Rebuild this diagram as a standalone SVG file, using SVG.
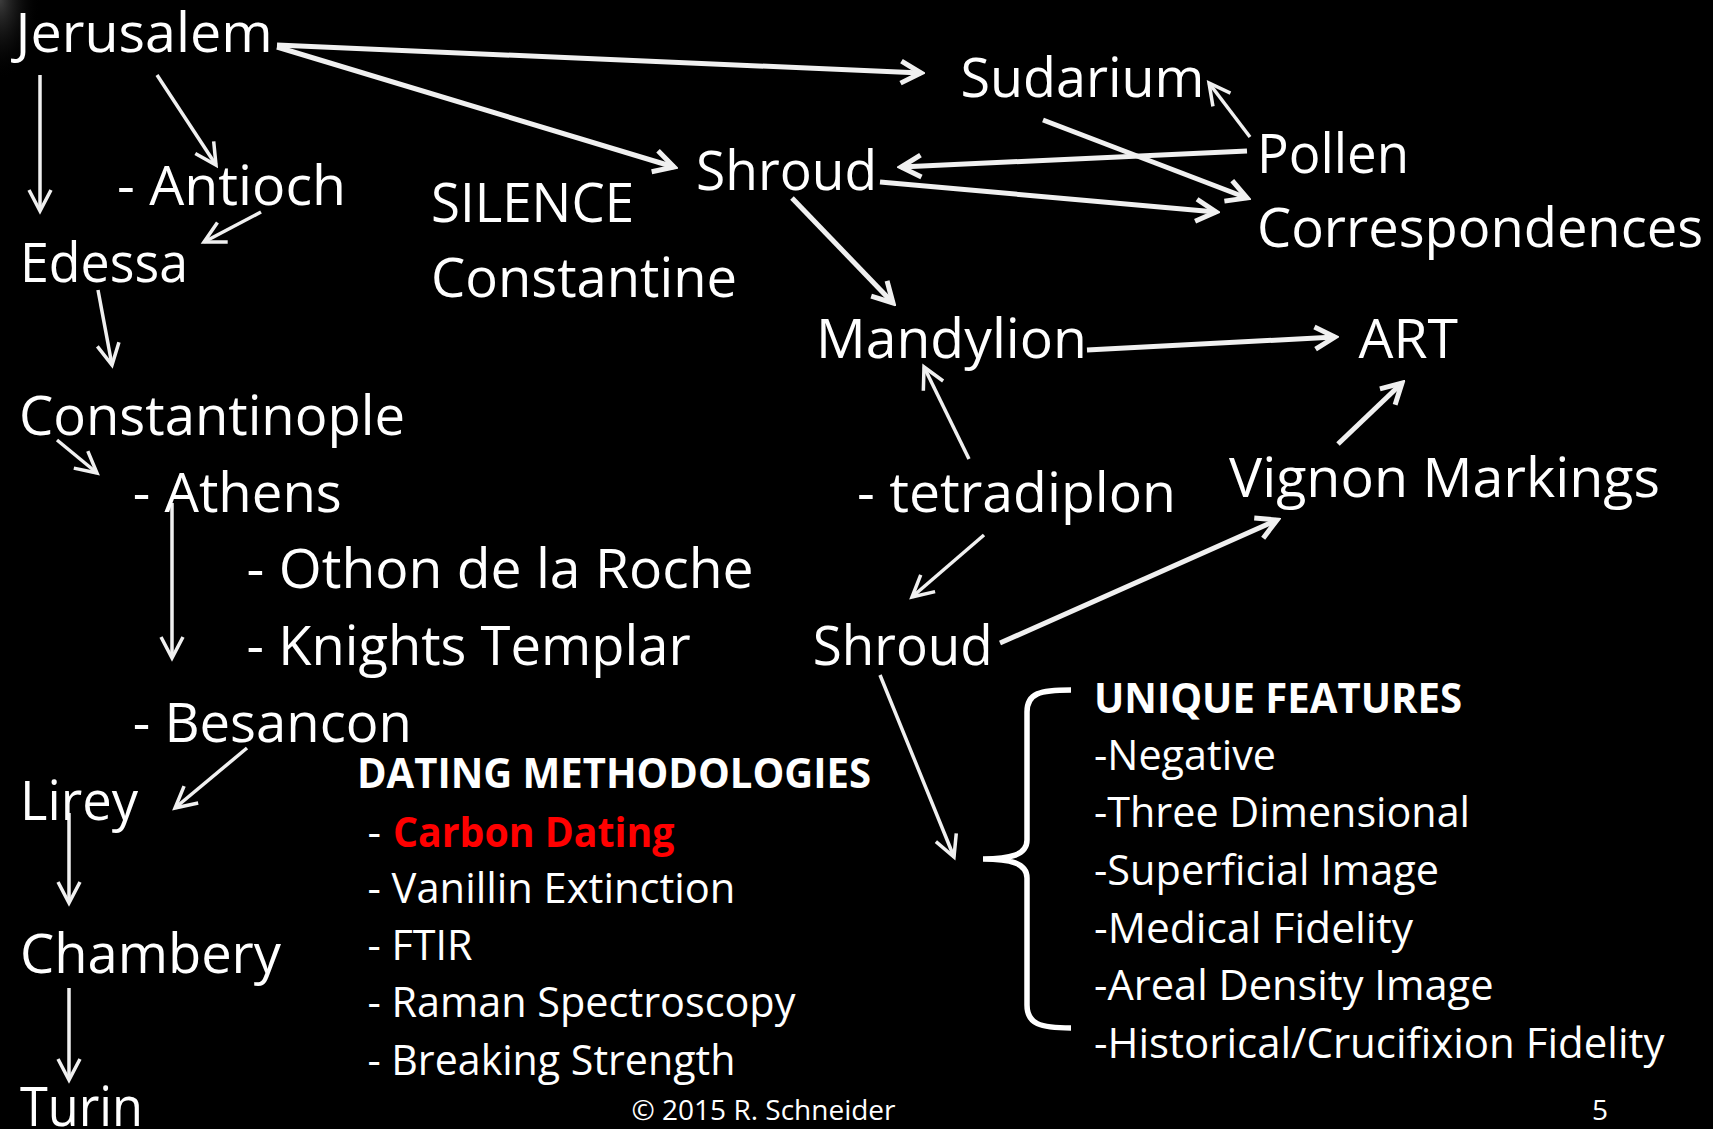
<svg xmlns="http://www.w3.org/2000/svg" width="1713" height="1129" viewBox="0 0 1713 1129">
<defs>
<style>
text{fill:#fff;font-family:"Open Sans","Noto Sans",sans-serif}
.big{font-size:55px}
.sm{font-size:42px}
.b{font-weight:bold}
.red{fill:#ff0000}
.foot{font-size:28px}
.thick{stroke:#f0f0f0;stroke-width:5;fill:none;marker-end:url(#ahThick)}
.thin{stroke:#f0f0f0;stroke-width:3.5;fill:none;marker-end:url(#ahThin)}
</style>
<marker id="ahThick" markerUnits="userSpaceOnUse" viewBox="-30 -15 34 30" markerWidth="34" markerHeight="30" refX="0" refY="0" orient="auto">
<path d="M-20,-11 L0,0 L-20,11" fill="none" stroke="#f0f0f0" stroke-width="5" stroke-linejoin="miter"/>
</marker>
<marker id="ahThin" markerUnits="userSpaceOnUse" viewBox="-30 -15 34 30" markerWidth="34" markerHeight="30" refX="0" refY="0" orient="auto">
<path d="M-21,-11 L0,0 L-21,11" fill="none" stroke="#f0f0f0" stroke-width="3.5" stroke-linejoin="miter"/>
</marker>
<radialGradient id="smudge" cx="0" cy="0" r="1">
<stop offset="0" stop-color="#666" stop-opacity="0.6"/>
<stop offset="1" stop-color="#000" stop-opacity="0"/>
</radialGradient>
</defs>
<rect width="1713" height="1129" fill="#000"/>
<rect x="0" y="0" width="40" height="80" fill="url(#smudge)"/>

<g id="connectors">
<line class="thin" x1="40" y1="75" x2="40" y2="211"/>
<line class="thin" x1="157" y1="75" x2="216" y2="165"/>
<line class="thin" x1="261" y1="212" x2="204" y2="242"/>
<line class="thin" x1="98" y1="290" x2="112" y2="365"/>
<line class="thin" x1="57" y1="440" x2="97" y2="473"/>
<line class="thin" x1="172" y1="503" x2="172" y2="658"/>
<line class="thin" x1="247" y1="748" x2="175" y2="808"/>
<line class="thin" x1="69" y1="813" x2="69" y2="903"/>
<line class="thin" x1="69" y1="988" x2="69" y2="1080"/>
<line class="thin" x1="1250" y1="137" x2="1209" y2="83"/>
<line class="thin" x1="969" y1="459" x2="924" y2="367"/>
<line class="thin" x1="984" y1="535" x2="912" y2="597"/>
<line class="thin" x1="880" y1="675" x2="954" y2="857"/>
<line class="thick" x1="277" y1="45" x2="921" y2="73"/>
<line class="thick" x1="277" y1="47" x2="674" y2="167"/>
<line class="thick" x1="1247" y1="151" x2="901" y2="167"/>
<line class="thick" x1="1043" y1="120" x2="1247" y2="198"/>
<line class="thick" x1="880" y1="182" x2="1216" y2="212"/>
<line class="thick" x1="792" y1="198" x2="893" y2="303"/>
<line class="thick" x1="1087" y1="350" x2="1335" y2="337"/>
<line class="thick" x1="1000" y1="643" x2="1277" y2="520"/>
<line class="thick" x1="1338" y1="444" x2="1402" y2="383"/>
<path d="M1071,690 C1040,690 1027,693 1027,712 L1027,840 C1027,855 1010,859 983,859 C1010,859 1027,863 1027,878 L1027,1005 C1027,1024 1040,1028 1071,1028" fill="none" stroke="#fff" stroke-width="5.5"/>
</g>

<g id="n-jerusalem"><text class="big" x="15.6" y="51.7" textLength="257" lengthAdjust="spacingAndGlyphs">Jerusalem</text></g>
<g id="n-antioch"><text class="big" x="117" y="205" textLength="229" lengthAdjust="spacingAndGlyphs">- Antioch</text></g>
<g id="n-edessa"><text class="big" x="20" y="281.7" textLength="168" lengthAdjust="spacingAndGlyphs">Edessa</text></g>
<g id="n-silence"><text class="big" x="431" y="221.7" textLength="203" lengthAdjust="spacingAndGlyphs">SILENCE</text></g>
<g id="n-constantine"><text class="big" x="431" y="296.7" textLength="306" lengthAdjust="spacingAndGlyphs">Constantine</text></g>
<g id="n-sudarium"><text class="big" x="960.5" y="97.3" textLength="244" lengthAdjust="spacingAndGlyphs">Sudarium</text></g>
<g id="n-shroud1"><text class="big" x="696" y="190" textLength="181" lengthAdjust="spacingAndGlyphs">Shroud</text></g>
<g id="n-pollen"><text class="big" x="1257" y="173" textLength="152" lengthAdjust="spacingAndGlyphs">Pollen</text></g>
<g id="n-correspondences"><text class="big" x="1257" y="246.7" textLength="446" lengthAdjust="spacingAndGlyphs">Correspondences</text></g>
<g id="n-mandylion"><text class="big" x="816" y="358.3" textLength="271" lengthAdjust="spacingAndGlyphs">Mandylion</text></g>
<g id="n-art"><text class="big" x="1358.5" y="358.3" textLength="99.5" lengthAdjust="spacingAndGlyphs">ART</text></g>
<g id="n-constantinople"><text class="big" x="19" y="435" textLength="386" lengthAdjust="spacingAndGlyphs">Constantinople</text></g>
<g id="n-athens"><text class="big" x="132.8" y="511.7" textLength="209" lengthAdjust="spacingAndGlyphs">- Athens</text></g>
<g id="n-tetradiplon"><text class="big" x="857" y="511.7" textLength="319" lengthAdjust="spacingAndGlyphs">- tetradiplon</text></g>
<g id="n-vignon"><text class="big" x="1229" y="496.7" textLength="431" lengthAdjust="spacingAndGlyphs">Vignon Markings</text></g>
<g id="n-othon"><text class="big" x="246.6" y="588.3" textLength="507" lengthAdjust="spacingAndGlyphs">- Othon de la Roche</text></g>
<g id="n-templar"><text class="big" x="246.6" y="665" textLength="444" lengthAdjust="spacingAndGlyphs">- Knights Templar</text></g>
<g id="n-shroud2"><text class="big" x="812.7" y="665" textLength="180" lengthAdjust="spacingAndGlyphs">Shroud</text></g>
<g id="n-besancon"><text class="big" x="132.8" y="741.7" textLength="279" lengthAdjust="spacingAndGlyphs">- Besancon</text></g>
<g id="n-lirey"><text class="big" x="20" y="820" textLength="118" lengthAdjust="spacingAndGlyphs">Lirey</text></g>
<g id="n-chambery"><text class="big" x="20" y="973.3" textLength="261" lengthAdjust="spacingAndGlyphs">Chambery</text></g>
<g id="n-turin"><text class="big" x="20" y="1126" textLength="123" lengthAdjust="spacingAndGlyphs">Turin</text></g>

<g id="n-dating">
<text class="sm b" x="357" y="788.3" textLength="514" lengthAdjust="spacingAndGlyphs">DATING METHODOLOGIES</text>
<text class="sm" x="367.4" y="846.7">-</text>
<text class="sm b red" x="393" y="846.7" textLength="281.5" lengthAdjust="spacingAndGlyphs">Carbon Dating</text>
<text class="sm" x="367.4" y="903.3" textLength="368" lengthAdjust="spacingAndGlyphs">- Vanillin Extinction</text>
<text class="sm" x="367.4" y="960" textLength="105" lengthAdjust="spacingAndGlyphs">- FTIR</text>
<text class="sm" x="367.4" y="1016.7" textLength="428" lengthAdjust="spacingAndGlyphs">- Raman Spectroscopy</text>
<text class="sm" x="367.4" y="1075" textLength="368" lengthAdjust="spacingAndGlyphs">- Breaking Strength</text>
</g>

<g id="n-unique">
<text class="sm b" x="1094" y="713" textLength="368" lengthAdjust="spacingAndGlyphs">UNIQUE FEATURES</text>
<text class="sm" x="1094" y="770" textLength="182" lengthAdjust="spacingAndGlyphs">-Negative</text>
<text class="sm" x="1094" y="826.7" textLength="376" lengthAdjust="spacingAndGlyphs">-Three Dimensional</text>
<text class="sm" x="1094" y="885" textLength="345" lengthAdjust="spacingAndGlyphs">-Superficial Image</text>
<text class="sm" x="1094" y="943.3" textLength="319" lengthAdjust="spacingAndGlyphs">-Medical Fidelity</text>
<text class="sm" x="1094" y="1000" textLength="399.5" lengthAdjust="spacingAndGlyphs">-Areal Density Image</text>
<text class="sm" x="1094" y="1058.3" textLength="570.5" lengthAdjust="spacingAndGlyphs">-Historical/Crucifixion Fidelity</text>
</g>

<g id="footer">
<text class="foot" x="631.5" y="1120" textLength="264" lengthAdjust="spacingAndGlyphs">© 2015 R. Schneider</text>
<text class="foot" x="1592" y="1120">5</text>
</g>
</svg>
